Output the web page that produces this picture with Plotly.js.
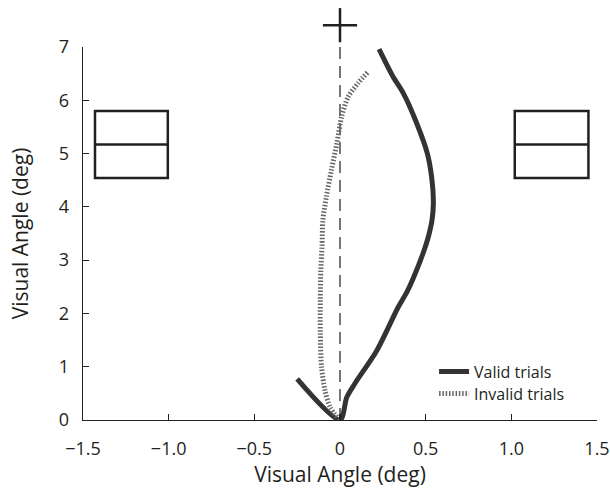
<!DOCTYPE html>
<html>
<head>
<meta charset="utf-8">
<script src="https://cdn.plot.ly/plotly-3.0.1.min.js"></script>
<style>html,body{margin:0;padding:0;background:#fff;}#chart{width:610px;height:495px;}</style>
</head>
<body>
<div id="chart"></div>
<script>
// Data
var validX = [-0.25, 0, 0.04, 0.088, 0.216, 0.34, 0.39, 0.43, 0.485, 0.515, 0.537, 0.545, 0.537, 0.51, 0.44, 0.37, 0.31, 0.228];
var validY = [0.77, 0, 0.43, 0.69, 1.31, 2.12, 2.4, 2.68, 3.13, 3.43, 3.75, 4.07, 4.5, 5.0, 5.63, 6.13, 6.44, 6.96];
var invalidX = [-0.005, -0.058, -0.088, -0.108, -0.115, -0.115, -0.112, -0.105, -0.1, -0.08, -0.05, -0.018, 0.01, 0.047, 0.105, 0.163];
var invalidY = [0, 0.24, 0.56, 1.0, 1.63, 2.25, 2.81, 3.25, 3.75, 4.18, 4.69, 5.2, 5.7, 6.06, 6.32, 6.53];
var fixationX = [0, 0];
var fixationY = [0, 7];
var cross = {x: 0, y: 7.41, halfW: 0.1, y0: 7.09, y1: 7.73};
var leftBox = {x0: -1.43, x1: -1.005, y0: 4.54, y1: 5.8, mid: 5.17};
var rightBox = {x0: 1.02, x1: 1.45, y0: 4.54, y1: 5.8, mid: 5.17};
var xRange = [-1.5, 1.5];
var yRange = [0, 7];
var xTickVals = [-1.5, -1.0, -0.5, 0, 0.5, 1.0, 1.5];
var xTickText = ['\u22121.5', '\u22121.0', '\u22120.5', '0', '0.5', '1.0', '1.5'];
var yTickVals = [0, 1, 2, 3, 4, 5, 6, 7];
var legendNames = ['Valid trials', 'Invalid trials'];

var font = 'Open Sans, sans-serif';
var ink = '#231f20';

function yPaper(v) { return (v - yRange[0]) / (yRange[1] - yRange[0]); }

var traces = [
  {x: fixationX, y: fixationY, mode: 'lines', line: {color: '#555', width: 1.6, dash: '12px,7px'}, showlegend: false, hoverinfo: 'skip'},
  {x: validX, y: validY, mode: 'lines', name: legendNames[0], legend: 'legend', line: {color: '#333', width: 5, shape: 'spline', smoothing: 0.8}},
  {x: invalidX, y: invalidY, mode: 'lines', name: legendNames[1], legend: 'legend2', line: {color: '#666', width: 5, dash: '1.5px,1.8px', shape: 'spline', smoothing: 0.8}}
];

function boxShapes(b) {
  return [
    {type: 'rect', xref: 'x', yref: 'y', x0: b.x0, x1: b.x1, y0: b.y0, y1: b.y1, line: {color: ink, width: 2.5}},
    {type: 'line', xref: 'x', yref: 'y', x0: b.x0, x1: b.x1, y0: b.mid, y1: b.mid, line: {color: ink, width: 2.5}}
  ];
}
var crossShapes = [
  {type: 'line', xref: 'x', yref: 'paper', x0: cross.x - cross.halfW, x1: cross.x + cross.halfW, y0: yPaper(cross.y), y1: yPaper(cross.y), line: {color: ink, width: 2.5}},
  {type: 'line', xref: 'x', yref: 'paper', x0: cross.x, x1: cross.x, y0: yPaper(cross.y0), y1: yPaper(cross.y1), line: {color: ink, width: 2.5}}
];

var legendCommon = {xanchor: 'left', yanchor: 'middle', bgcolor: 'rgba(0,0,0,0)', borderwidth: 0, font: {size: 16, family: font, color: ink}};

var layout = {
  width: 610, height: 495,
  margin: {l: 83, r: 13, t: 47, b: 75},
  paper_bgcolor: '#fff', plot_bgcolor: '#fff',
  font: {family: font, color: ink, size: 18},
  showlegend: true,
  legend: Object.assign({x: 0.683, y: 0.13}, legendCommon),
  legend2: Object.assign({x: 0.683, y: 0.071}, legendCommon),
  xaxis: {range: xRange, tickvals: xTickVals, ticktext: xTickText, ticks: 'inside', ticklen: 6, tickwidth: 1.2, tickcolor: ink,
          showline: true, linecolor: ink, linewidth: 1.3, showgrid: false, zeroline: false, ticklabelstandoff: 12,
          title: {text: 'Visual Angle (deg)', font: {size: 21, family: font, color: ink}, standoff: 5}, tickfont: {size: 18}},
  yaxis: {range: yRange, tickvals: yTickVals, ticks: 'inside', ticklen: 6, tickwidth: 1.2, tickcolor: ink,
          showline: true, linecolor: ink, linewidth: 1.3, showgrid: false, zeroline: false, ticklabelstandoff: 9,
          title: {text: 'Visual Angle (deg)', font: {size: 21, family: font, color: ink}, standoff: 24}, tickfont: {size: 18}},
  shapes: boxShapes(leftBox).concat(boxShapes(rightBox)).concat(crossShapes)
};

Plotly.newPlot('chart', traces, layout, {displayModeBar: false, staticPlot: true});
</script>
</body>
</html>
